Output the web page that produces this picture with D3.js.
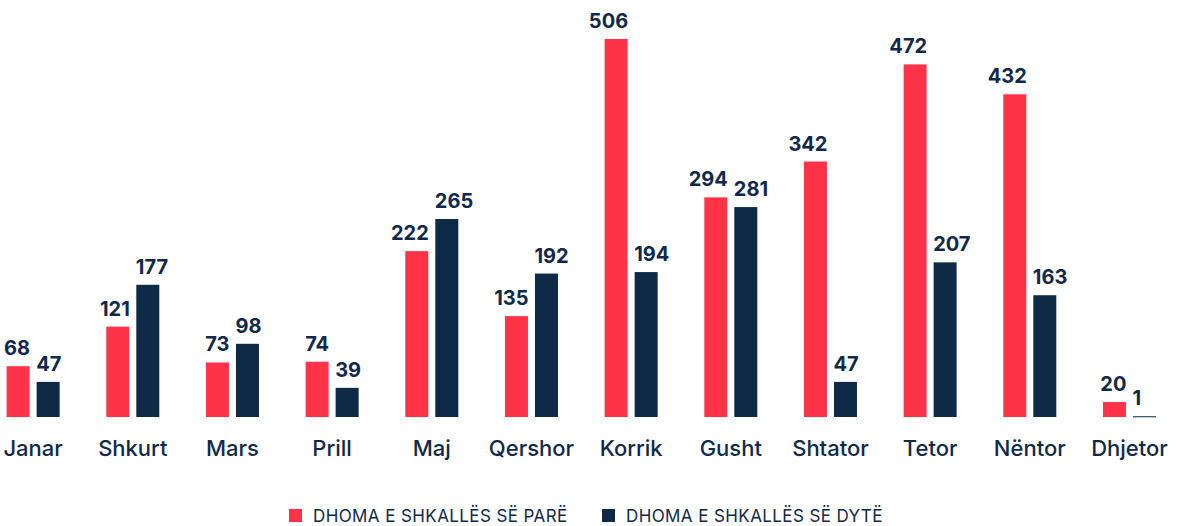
<!DOCTYPE html>
<html>
<head>
<meta charset="utf-8">
<script src="https://cdn.jsdelivr.net/npm/d3@7"></script>
<style>
  body { margin: 0; background: #fff; }
  svg { display: block; font-family: Inter, "Noto Sans", sans-serif; }
</style>
</head>
<body>
<div id="chart"></div>
<script>
const months = ["Janar", "Shkurt", "Mars", "Prill", "Maj", "Qershor", "Korrik", "Gusht", "Shtator", "Tetor", "Nëntor", "Dhjetor"]
const firstLevel = [68, 121, 73, 74, 222, 135, 506, 294, 342, 472, 432, 20]
const secondLevel = [47, 177, 98, 39, 265, 192, 194, 281, 47, 207, 163, 1]
const seriesNames = ["DHOMA E SHKALLËS SË PARË", "DHOMA E SHKALLËS SË DYTË"]
const colors = ["#ff3347", "#0e2a47"]
const textColor = "#10294a"

const width = 1177, height = 526
const baseline = 417

const svg = d3.select('#chart').append('svg')
    .attr("width", width)
    .attr("height", height)

let xScale = d3.scaleBand()
    .domain(months)
    .range([-16.7, 1179.3])
    .padding(0)

let xSub = d3.scaleBand()
    .domain([0, 1])
    .range([xScale.bandwidth() / 2 - 26.5, xScale.bandwidth() / 2 + 26.5])
    .paddingInner(0.2333)

let yScale = d3.scaleLinear()
    .domain([0, 506])
    .range([baseline, 39])

const data = months.map((m, i) => ({month: m, values: [firstLevel[i], secondLevel[i]]}))

const groups = svg.append("g").selectAll("g")
    .data(data)
    .join("g")
    .attr("transform", d => `translate(${xScale(d.month)},0)`)

groups.selectAll("rect")
    .data(d => d.values.map((v, k) => ({k, v})))
    .join("rect")
    .attr("x", d => xSub(d.k))
    .attr("width", xSub.bandwidth())
    .attr("y", d => yScale(d.v))
    .attr("height", d => Math.max(1, baseline - yScale(d.v)))
    .attr("fill", d => colors[d.k])

// first-series labels end at the bar's right edge, second-series start at the left edge
groups.selectAll("text.value")
    .data(d => d.values.map((v, k) => ({k, v})))
    .join("text")
    .attr("class", "value")
    .attr("x", d => d.k === 0 ? xSub(d.k) + xSub.bandwidth() + 0.5 : xSub(d.k) - 0.5)
    .attr("y", d => yScale(d.v) - 11)
    .attr("text-anchor", d => d.k === 0 ? "end" : "start")
    .attr("font-size", 20)
    .attr("font-weight", 700)
    .attr("fill", textColor)
    .text(d => d.v)

// x axis labels
const xAxis = d3.axisBottom(xScale).tickSize(0).tickPadding(0)
const axisG = svg.append("g")
    .attr("transform", `translate(0,${baseline})`)
    .call(xAxis)
axisG.select(".domain").remove()
axisG.selectAll("text")
    .attr("dy", null)
    .attr("y", 39)
    .attr("font-size", 22)
    .attr("font-weight", 500)
    .attr("font-family", "Inter, sans-serif")
    .attr("fill", textColor)

// legend
const legendX = [289, 602]
const legend = svg.append("g")
    .selectAll("g")
    .data(seriesNames)
    .join("g")
    .attr("transform", (d, i) => `translate(${legendX[i]},509)`)
legend.append("rect")
    .attr("width", 13)
    .attr("height", 13)
    .attr("fill", (d, i) => colors[i])
legend.append("text")
    .attr("x", 24)
    .attr("y", 13)
    .attr("font-size", 17)
    .attr("letter-spacing", 0.4)
    .attr("fill", textColor)
    .text(d => d)
</script>
</body>
</html>
